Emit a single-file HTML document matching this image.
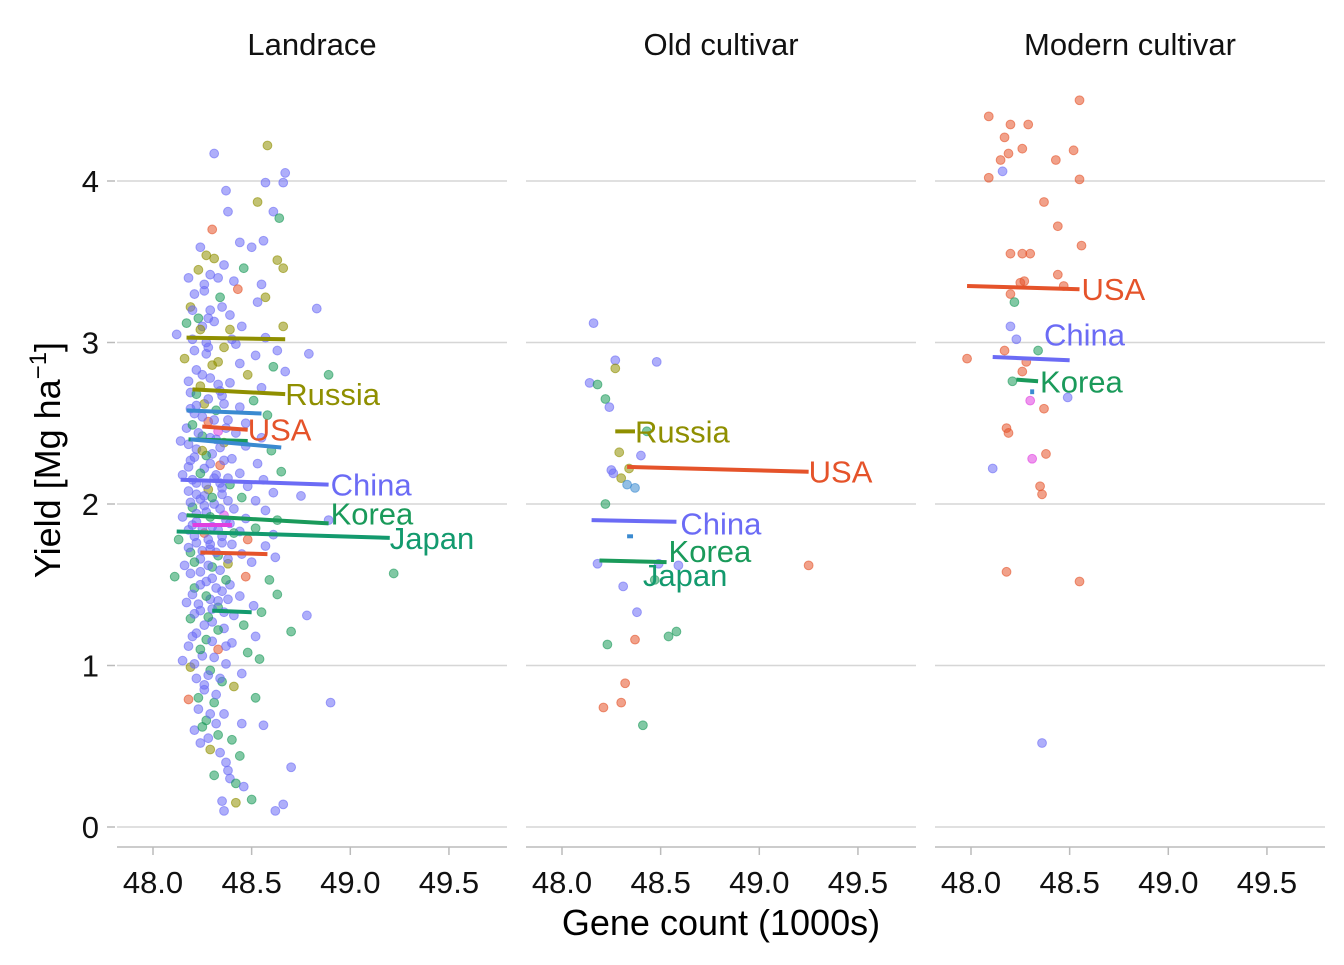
<!DOCTYPE html>
<html><head><meta charset="utf-8">
<style>
html,body{margin:0;padding:0;background:#fff;}
svg text{font-family:"Liberation Sans",Arial,sans-serif;}
</style></head>
<body>
<svg id="chart" width="1344" height="960" viewBox="0 0 1344 960" xmlns="http://www.w3.org/2000/svg">
<g id="frame"></g>
<g id="marks"></g>
<text transform="translate(60,460) rotate(-90)" text-anchor="middle" font-size="36" fill="#000">Yield [Mg ha<tspan dy="-14" font-size="24">−1</tspan><tspan dy="14">]</tspan></text>
<text x="721" y="935" text-anchor="middle" font-size="36" fill="#000">Gene count (1000s)</text>
</svg>
<script>
const panels = ["Landrace", "Old cultivar", "Modern cultivar"];
const xTicks = [48.0, 48.5, 49.0, 49.5];
const xTickLabels = ["48.0", "48.5", "49.0", "49.5"];
const yTicks = [0, 1, 2, 3, 4];
const colors = {C:"#6b6bf5",K:"#1a9a5a",R:"#8f8f00",U:"#e5532a",J:"#139a6e",B:"#3a8ad0",M:"#e040e0"};
const groupNames = {C:"China",K:"Korea",R:"Russia",U:"USA",J:"Japan",B:"Other",M:"Other2"};

const landracePoints = [
[48.31,4.17,"C"],[48.58,4.22,"R"],[48.67,4.05,"C"],[48.66,3.99,"C"],[48.57,3.99,"C"],[48.37,3.94,"C"],[48.53,3.87,"R"],[48.61,3.81,"C"],[48.38,3.81,"C"],[48.64,3.77,"K"],
[48.30,3.70,"U"],[48.24,3.59,"C"],[48.44,3.62,"C"],[48.56,3.63,"C"],[48.50,3.59,"C"],[48.27,3.54,"R"],[48.31,3.52,"R"],[48.63,3.51,"R"],[48.66,3.46,"R"],[48.36,3.48,"C"],
[48.23,3.45,"R"],[48.46,3.46,"K"],[48.29,3.42,"C"],[48.41,3.38,"C"],[48.55,3.36,"C"],[48.18,3.40,"C"],[48.26,3.32,"C"],[48.43,3.33,"U"],[48.57,3.28,"R"],[48.21,3.30,"C"],
[48.34,3.28,"K"],[48.53,3.25,"C"],[48.83,3.21,"C"],[48.19,3.22,"R"],[48.29,3.20,"C"],[48.39,3.17,"C"],[48.23,3.15,"K"],[48.17,3.12,"K"],[48.31,3.13,"C"],[48.45,3.10,"C"],
[48.25,3.10,"C"],[48.39,3.08,"R"],[48.66,3.10,"R"],[48.12,3.05,"C"],[48.57,3.03,"C"],[48.20,3.02,"C"],[48.42,2.99,"C"],[48.63,2.95,"C"],[48.36,2.97,"R"],[48.27,2.93,"C"],
[48.52,2.92,"C"],[48.79,2.93,"C"],[48.16,2.90,"R"],[48.33,2.88,"R"],[48.44,2.87,"C"],[48.61,2.85,"K"],[48.22,2.83,"C"],[48.67,2.82,"C"],[48.48,2.80,"R"],[48.89,2.80,"K"],
[48.29,2.78,"C"],[48.39,2.75,"C"],[48.24,2.73,"R"],[48.55,2.72,"C"],[48.19,2.69,"C"],[48.35,2.67,"C"],[48.51,2.64,"K"],[48.26,2.62,"R"],[48.44,2.60,"C"],[48.32,2.58,"K"],
[48.21,2.56,"C"],[48.58,2.55,"K"],[48.38,2.52,"C"],[48.28,2.51,"U"],[48.47,2.50,"C"],[48.17,2.47,"C"],[48.33,2.45,"M"],[48.42,2.44,"C"],[48.25,2.42,"K"],[48.55,2.41,"C"],
[48.14,2.39,"C"],[48.36,2.38,"R"],[48.47,2.36,"C"],[48.22,2.34,"C"],[48.60,2.33,"K"],[48.30,2.31,"C"],[48.40,2.28,"C"],[48.19,2.27,"C"],[48.53,2.25,"C"],[48.34,2.24,"U"],
[48.26,2.22,"C"],[48.65,2.20,"K"],[48.44,2.19,"C"],[48.15,2.18,"C"],[48.31,2.16,"C"],[48.56,2.15,"C"],[48.22,2.13,"C"],[48.39,2.12,"K"],[48.48,2.11,"C"],[48.28,2.09,"R"],
[48.18,2.08,"C"],[48.61,2.07,"C"],[48.35,2.06,"C"],[48.45,2.04,"K"],[48.24,2.03,"C"],[48.52,2.02,"C"],[48.75,2.05,"C"],[48.31,2.00,"C"],[48.20,1.98,"K"],[48.41,1.97,"C"],
[48.57,1.96,"C"],[48.27,1.95,"C"],[48.36,1.93,"M"],[48.15,1.92,"C"],[48.47,1.91,"C"],[48.63,1.90,"K"],[48.22,1.89,"C"],[48.39,1.88,"C"],[48.89,1.90,"C"],[48.30,1.86,"C"],
[48.52,1.85,"K"],[48.18,1.84,"C"],[48.44,1.83,"C"],[48.26,1.82,"U"],[48.61,1.81,"C"],[48.35,1.80,"C"],[48.13,1.78,"K"],[48.48,1.78,"U"],[48.22,1.76,"C"],[48.40,1.75,"C"],
[48.57,1.74,"C"],[48.29,1.72,"C"],[48.19,1.70,"K"],[48.45,1.69,"C"],[48.33,1.68,"K"],[48.62,1.67,"C"],[48.24,1.66,"C"],[48.50,1.64,"C"],[48.38,1.63,"R"],[48.16,1.62,"C"],
[48.30,1.61,"K"],[48.11,1.55,"K"],[48.47,1.55,"U"],[48.59,1.53,"K"],[49.22,1.57,"K"],[48.27,1.52,"C"],[48.39,1.50,"C"],[48.21,1.48,"K"],[48.35,1.46,"C"],[48.63,1.44,"K"],
[48.44,1.43,"C"],[48.29,1.41,"C"],[48.17,1.39,"C"],[48.51,1.37,"C"],[48.33,1.36,"K"],[48.24,1.34,"C"],[48.55,1.33,"K"],[48.41,1.31,"C"],[48.78,1.31,"C"],[48.19,1.29,"K"],
[48.30,1.27,"C"],[48.46,1.25,"K"],[48.36,1.23,"C"],[48.70,1.21,"K"],[48.22,1.20,"C"],[48.52,1.18,"C"],[48.27,1.16,"K"],[48.40,1.14,"C"],[48.18,1.12,"C"],[48.33,1.10,"U"],
[48.48,1.08,"K"],[48.25,1.06,"C"],[48.54,1.04,"K"],[48.15,1.03,"C"],[48.37,1.01,"C"],[48.19,0.99,"R"],[48.29,0.97,"K"],[48.45,0.95,"C"],[48.22,0.92,"C"],[48.35,0.90,"K"],
[48.41,0.87,"R"],[48.26,0.85,"C"],[48.18,0.79,"U"],[48.52,0.80,"K"],[48.90,0.77,"C"],[48.31,0.77,"K"],[48.23,0.73,"C"],[48.36,0.70,"C"],[48.27,0.66,"K"],[48.45,0.64,"C"],
[48.56,0.63,"C"],[48.21,0.60,"C"],[48.33,0.57,"K"],[48.40,0.54,"K"],[48.24,0.52,"C"],[48.29,0.48,"R"],[48.44,0.44,"K"],[48.37,0.40,"C"],[48.70,0.37,"C"],[48.31,0.32,"K"],
[48.39,0.30,"C"],[48.42,0.27,"K"],[48.46,0.25,"C"],[48.35,0.16,"C"],[48.42,0.15,"R"],[48.50,0.17,"K"],[48.66,0.14,"C"],[48.36,0.10,"C"],[48.62,0.10,"C"],[48.28,2.97,"C"],
[48.22,2.61,"C"],[48.34,2.70,"C"],[48.27,2.30,"K"],[48.32,2.40,"C"],[48.26,2.05,"C"],[48.34,2.13,"C"],[48.29,1.75,"C"],[48.24,1.58,"C"],[48.33,1.40,"C"],[48.28,1.30,"K"],
[48.20,3.20,"C"],[48.24,3.08,"R"],[48.27,3.00,"C"],[48.21,2.95,"C"],[48.30,2.86,"R"],[48.25,2.80,"C"],[48.18,2.76,"C"],[48.33,2.74,"C"],[48.22,2.68,"K"],[48.28,2.65,"C"],
[48.36,2.62,"C"],[48.19,2.59,"C"],[48.25,2.54,"C"],[48.31,2.52,"C"],[48.20,2.49,"K"],[48.37,2.47,"C"],[48.23,2.44,"C"],[48.29,2.41,"C"],[48.18,2.37,"C"],[48.34,2.35,"C"],
[48.25,2.33,"R"],[48.21,2.29,"C"],[48.36,2.27,"C"],[48.29,2.25,"C"],[48.18,2.23,"C"],[48.24,2.19,"K"],[48.32,2.18,"C"],[48.38,2.16,"C"],[48.20,2.15,"C"],[48.27,2.12,"C"],
[48.35,2.10,"C"],[48.22,2.06,"C"],[48.30,2.04,"K"],[48.38,2.02,"C"],[48.19,2.01,"C"],[48.26,1.99,"C"],[48.34,1.97,"C"],[48.22,1.94,"C"],[48.29,1.92,"K"],[48.37,1.90,"C"],
[48.20,1.87,"C"],[48.25,1.85,"C"],[48.33,1.84,"C"],[48.41,1.82,"K"],[48.21,1.80,"C"],[48.28,1.78,"C"],[48.35,1.76,"C"],[48.18,1.73,"C"],[48.25,1.71,"C"],[48.32,1.70,"C"],
[48.38,1.66,"C"],[48.21,1.64,"K"],[48.28,1.62,"C"],[48.34,1.59,"C"],[48.19,1.57,"C"],[48.30,1.54,"C"],[48.37,1.53,"K"],[48.24,1.50,"C"],[48.32,1.48,"C"],[48.20,1.44,"C"],
[48.27,1.43,"K"],[48.38,1.41,"C"],[48.23,1.38,"C"],[48.30,1.35,"C"],[48.36,1.33,"C"],[48.21,1.32,"C"],[48.26,1.25,"C"],[48.33,1.22,"K"],[48.20,1.18,"C"],[48.30,1.15,"C"],
[48.37,1.12,"C"],[48.24,1.10,"K"],[48.31,1.05,"C"],[48.21,1.01,"C"],[48.28,0.94,"C"],[48.34,0.92,"C"],[48.26,0.88,"C"],[48.32,0.82,"C"],[48.23,0.80,"K"],[48.29,0.70,"C"],
[48.25,0.62,"K"],[48.32,0.64,"C"],[48.28,0.55,"C"],[48.34,0.46,"C"],[48.38,0.35,"C"],[48.33,3.40,"C"],[48.26,3.36,"C"],[48.35,3.22,"C"],[48.28,3.15,"C"],[48.40,3.02,"C"]
];
const oldPoints = [
[48.16,3.12,"C"],[48.27,2.89,"C"],[48.27,2.84,"R"],[48.48,2.88,"C"],[48.14,2.75,"C"],[48.18,2.74,"K"],[48.22,2.65,"K"],[48.24,2.60,"C"],[48.29,2.32,"R"],[48.40,2.30,"C"],
[48.25,2.21,"C"],[48.26,2.19,"C"],[48.30,2.16,"R"],[48.34,2.22,"R"],[48.33,2.12,"B"],[48.37,2.10,"B"],[48.22,2.00,"K"],[48.18,1.63,"C"],[48.49,1.63,"C"],[48.59,1.62,"C"],
[49.25,1.62,"U"],[48.31,1.49,"C"],[48.47,1.53,"K"],[48.38,1.33,"C"],[48.23,1.13,"K"],[48.37,1.16,"U"],[48.54,1.18,"K"],[48.58,1.21,"K"],[48.32,0.89,"U"],[48.30,0.77,"U"],
[48.21,0.74,"U"],[48.41,0.63,"K"],[48.43,2.45,"K"]
];
const modernPoints = [
[48.09,4.40,"U"],[48.20,4.35,"U"],[48.29,4.35,"U"],[48.55,4.50,"U"],[48.17,4.27,"U"],[48.26,4.20,"U"],[48.15,4.13,"U"],[48.19,4.17,"U"],[48.43,4.13,"U"],[48.52,4.19,"U"],
[48.09,4.02,"U"],[48.55,4.01,"U"],[48.16,4.06,"C"],[48.37,3.87,"U"],[48.44,3.72,"U"],[48.20,3.55,"U"],[48.26,3.55,"U"],[48.30,3.55,"U"],[48.56,3.60,"U"],[48.44,3.42,"U"],
[48.20,3.30,"U"],[48.27,3.38,"U"],[48.25,3.37,"U"],[48.47,3.35,"U"],[48.22,3.25,"K"],[48.20,3.10,"C"],[48.23,3.02,"C"],[47.98,2.90,"U"],[48.17,2.95,"U"],[48.28,2.88,"U"],
[48.34,2.95,"K"],[48.26,2.82,"U"],[48.21,2.76,"K"],[48.49,2.66,"C"],[48.30,2.64,"M"],[48.37,2.59,"U"],[48.18,2.47,"U"],[48.19,2.44,"U"],[48.38,2.31,"U"],[48.31,2.28,"M"],
[48.11,2.22,"C"],[48.35,2.11,"U"],[48.36,2.06,"U"],[48.18,1.58,"U"],[48.55,1.52,"U"],[48.36,0.52,"C"]
];
// trend segments: [x1, y1, x2, y2, group]
const landraceLines = [
[48.17,3.03,48.67,3.02,"R"],[48.20,2.71,48.67,2.68,"R"],[48.17,2.58,48.55,2.56,"B"],[48.25,2.48,48.48,2.46,"U"],
[48.18,2.40,48.48,2.39,"K"],[48.19,2.40,48.65,2.35,"B"],[48.14,2.15,48.89,2.12,"C"],[48.20,1.87,48.40,1.87,"M"],
[48.17,1.93,48.89,1.88,"K"],[48.12,1.83,49.20,1.79,"J"],[48.24,1.70,48.58,1.69,"U"],[48.30,1.34,48.50,1.33,"J"]
];
const oldLines = [
[48.27,2.45,48.37,2.45,"R"],[48.33,2.23,49.25,2.20,"U"],[48.15,1.90,48.58,1.89,"C"],[48.33,1.80,48.36,1.80,"B"],[48.19,1.65,48.53,1.64,"K"]
];
const modernLines = [
[47.98,3.35,48.55,3.33,"U"],[48.11,2.91,48.50,2.89,"C"],[48.23,2.77,48.34,2.76,"K"],[48.31,2.71,48.31,2.68,"B"]
];
// labels: [x, y, text, group]
const landraceLabels = [[48.67,2.68,"Russia","R"],[48.48,2.46,"USA","U"],[48.90,2.12,"China","C"],[48.90,1.94,"Korea","K"],[49.20,1.79,"Japan","J"]];
const oldLabels = [[48.37,2.45,"Russia","R"],[49.25,2.20,"USA","U"],[48.60,1.88,"China","C"],[48.54,1.71,"Korea","K"],[48.41,1.56,"Japan","J"]];
const modernLabels = [[48.56,3.33,"USA","U"],[48.37,3.05,"China","C"],[48.35,2.76,"Korea","K"]];

const panelPoints = [landracePoints, oldPoints, modernPoints];
const panelLines = [landraceLines, oldLines, modernLines];
const panelLabels = [landraceLabels, oldLabels, modernLabels];

const NS = "http://www.w3.org/2000/svg";
const panelLeft = [117, 526, 935], panelW = 390;
function xScale(p, v){ return panelLeft[p] + 36 + (v - 48.0) * 197.3; }
function yScale(v){ return 827 - v * 161.5; }
function mk(tag, attrs, parent){ const e = document.createElementNS(NS, tag); for (const k in attrs) e.setAttribute(k, attrs[k]); parent.appendChild(e); return e; }
const frame = document.getElementById("frame"), marks = document.getElementById("marks");

yTicks.forEach(t => {
  const lab = mk("text", {x:99, y:yScale(t)+11, "text-anchor":"end", "font-size":31, fill:"#111"}, frame);
  lab.textContent = String(t);
  
  
  const tk = mk("line", {x1:107, x2:115, y1:yScale(t), y2:yScale(t), stroke:"#bbb", "stroke-width":1.5}, frame);
  
  
});

panels.forEach((name, p) => {
  const L = panelLeft[p];
  const title = mk("text", {x:L + panelW/2, y:55, "text-anchor":"middle", "font-size":31, fill:"#111"}, frame);
  title.textContent = name;
  
  
  yTicks.forEach(t => {
    const g = mk("line", {x1:L, x2:L+panelW, y1:yScale(t), y2:yScale(t), stroke:"#d6d6d6", "stroke-width":1.5}, frame);
    
    
  });
  const ax = mk("line", {x1:L, x2:L+panelW, y1:847, y2:847, stroke:"#bbb", "stroke-width":1.5}, frame);
  
  
  xTicks.forEach((t, i) => {
    const tk = mk("line", {x1:xScale(p,t), x2:xScale(p,t), y1:847, y2:855, stroke:"#bbb", "stroke-width":1.5}, frame);
    
    
    const lab = mk("text", {x:xScale(p,t), y:893, "text-anchor":"middle", "font-size":31, fill:"#111"}, frame);
    lab.textContent = xTickLabels[i];
    
    
  });
  panelPoints[p].forEach(d => {
    const c = mk("circle", {cx:xScale(p,d[0]), cy:yScale(d[1]), r:4.4, fill:colors[d[2]], "fill-opacity":0.55, stroke:colors[d[2]], "stroke-opacity":0.6, "stroke-width":1}, marks);
    
    
  });
  panelLines[p].forEach(d => {
    const l = mk("line", {x1:xScale(p,d[0]), y1:yScale(d[1]), x2:xScale(p,d[2]), y2:yScale(d[3]), stroke:colors[d[4]], "stroke-width":4}, marks);
    
    
  });
  panelLabels[p].forEach(d => {
    const t = mk("text", {x:xScale(p,d[0]), y:yScale(d[1])+11, "font-size":31, fill:colors[d[3]]}, marks);
    t.textContent = d[2];
    
    
  });
});
</script>
</body></html>
